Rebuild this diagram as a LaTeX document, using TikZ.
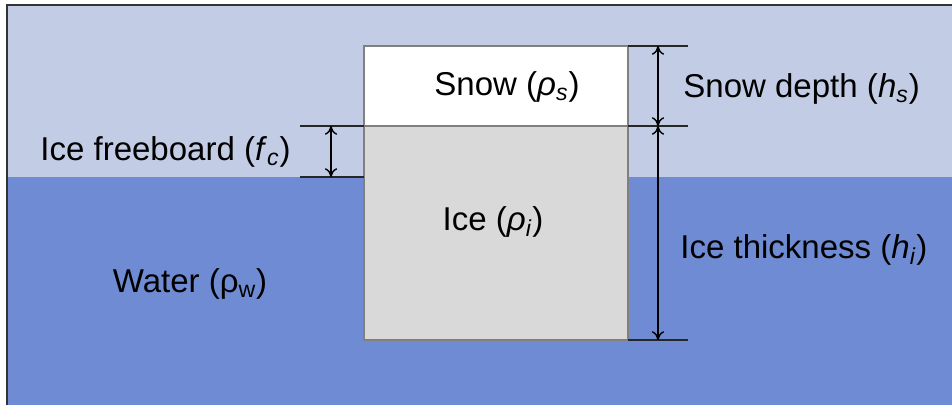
\documentclass[tikz,border=0pt]{standalone}
\usepackage{fontspec}
\setmainfont{Liberation Sans}
\usepackage{xcolor}
\usetikzlibrary{arrows.meta, positioning}

\definecolor{airblue}{HTML}{C2CCE5}
\definecolor{waterblue}{HTML}{6E8BD3}
\definecolor{icegray}{HTML}{D9D9D9}
\definecolor{edgegray}{HTML}{808080}

\begin{document}
\begin{tikzpicture}[
    x=0.02cm, y=0.02cm,
    layer/.style={rectangle, draw=edgegray, line width=0.6pt, inner sep=0pt, outer sep=0pt},
    label/.style={font=\fontsize{18.8}{22}\selectfont, inner sep=0pt},
    tick/.style={line width=1pt, black!85},
    dimarrow/.style={line width=0.8pt, {To[length=5pt,width=7pt]}-{To[length=5pt,width=7pt]}}
]
\useasboundingbox (0,0) rectangle (952,405);

% Air and water
\fill[airblue] (7,228) rectangle (952,400);
\fill[waterblue] (7,0) rectangle (952,228);
\draw[line width=1.2pt, black!80] (7,0) -- (7,400) -- (952,400);

% Snow and ice block
\node[layer, fill=white, minimum width=264*0.02cm, minimum height=80*0.02cm, anchor=south west] (snow) at (364,279) {};
\node[layer, fill=icegray, minimum width=264*0.02cm, minimum height=214*0.02cm, anchor=north west] (ice) at (364,279) {};

% Texts
\node[label] (snowtext) at (507,318) {Snow (\textit{ρ}\textsubscript{\textit{s}})};
\node[label] (icetext) at (493,183) {Ice (\textit{ρ}\textsubscript{\textit{i}})};
\node[label] (watertext) at (190,121) {Water (ρ\textsubscript{w})};
\node[label, anchor=west] (depthtext) at (683,316) {Snow depth (\textit{h}\textsubscript{\textit{s}})};
\node[label, anchor=west] (thicktext) at (680,155) {Ice thickness (\textit{h}\textsubscript{\textit{i}})};
\node[label, anchor=east] (fbtext) at (291,253) {Ice freeboard (\textit{f}\textsubscript{\textit{c}})};

% Dimension marks
\coordinate (fbtop) at (300,279);
\coordinate (fbbot) at (300,228);
\coordinate (rtop) at (688,359);
\coordinate (rmid) at (688,279);
\coordinate (rbot) at (688,65);
\coordinate (fbup) at (331,279);
\coordinate (fbdown) at (331,228);
\coordinate (hstop) at (658,359);
\coordinate (hsmid) at (658,279);
\coordinate (hibot) at (658,65);

\draw[tick] (fbtop) -- (snow.south west);
\draw[tick] (fbbot) -- (fbbot -| ice.west);
\draw[tick] (snow.north east) -- (rtop);
\draw[tick] (snow.south east) -- (rmid);
\draw[tick] (ice.south east) -- (rbot);

\draw[dimarrow] (fbup) -- (fbdown);
\draw[dimarrow] (hstop) -- (hsmid);
\draw[dimarrow] (hsmid) -- (hibot);

\end{tikzpicture}
\end{document}
